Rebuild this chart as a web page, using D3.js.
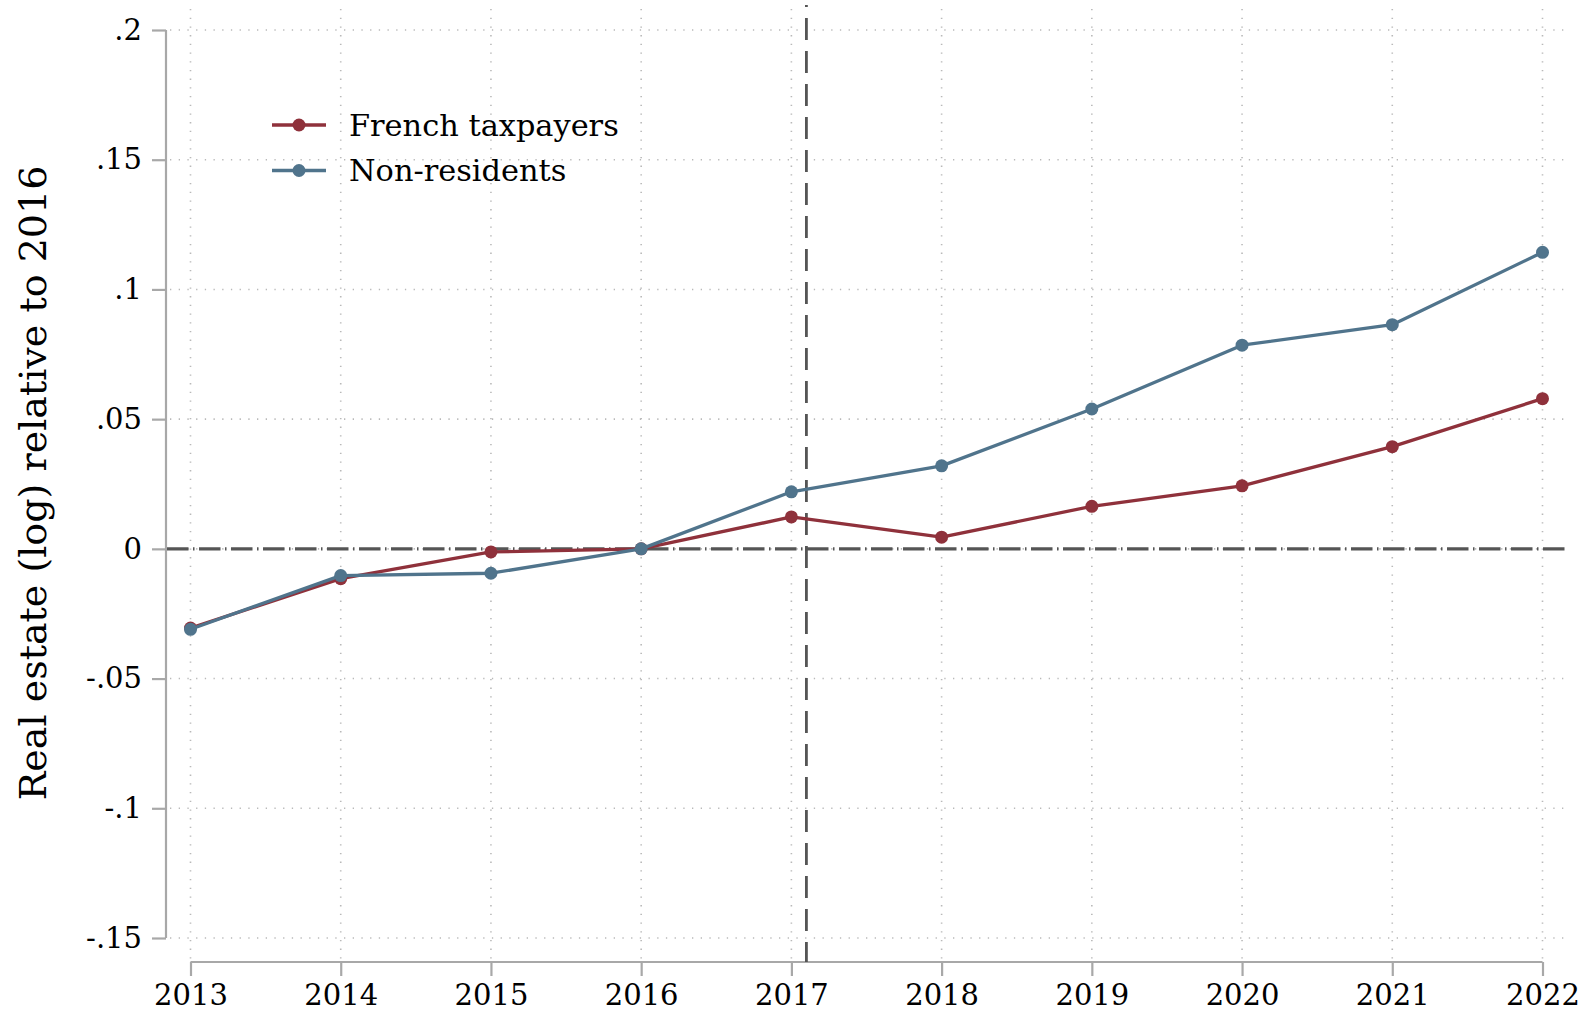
<!DOCTYPE html>
<html>
<head>
<meta charset="utf-8">
<script src="https://cdn.jsdelivr.net/npm/d3@7"></script>
<style>
  html, body { margin: 0; padding: 0; background: #fff; }
  svg { display: block; font-family: "DejaVu Serif", serif; }
  .tick-label { font-size: 29px; fill: #000; }
  .legend-label { font-size: 30.4px; fill: #000; }
  .y-title { font-size: 38px; fill: #000; }
</style>
</head>
<body>
<div id="chart"></div>
<script>
// data
var years = [2013, 2014, 2015, 2016, 2017, 2018, 2019, 2020, 2021, 2022];
var french = [-0.0305, -0.0115, -0.0012, 0, 0.0123, 0.0045, 0.0164, 0.0243, 0.0394, 0.0579];
var nonResidents = [-0.0310, -0.0103, -0.0094, 0, 0.0220, 0.0320, 0.0539, 0.0785, 0.0864, 0.1143];
var seriesNames = ["French taxpayers", "Non-residents"];
var yTicks = [-0.15, -0.1, -0.05, 0, 0.05, 0.1, 0.15, 0.2];
var yTickLabels = ["-.15", "-.1", "-.05", "0", ".05", ".1", ".15", ".2"];
var reformYear = 2017.1;

var W = 1587, H = 1013;
var colors = ["#8f313b", "#50748c"];
var axisColor = "#a8a8a8";
var refColor = "#555555";

var svg = d3.select("#chart").append("svg")
    .attr("width", W)
    .attr("height", H);

var plotLeft = 166, plotRight = 1568, plotTop = 5, plotBottom = 962;

var x = d3.scaleLinear().domain([2013, 2022]).range([190.5, 1542.5]);
var y = d3.scaleLinear().domain([-0.15, 0.2]).range([938, 30]);

// grid
var grid = svg.append("g").attr("class", "grid");
grid.selectAll("line.h").data(yTicks).enter().append("line")
    .attr("class", "h")
    .attr("x1", plotLeft + 4).attr("x2", plotRight)
    .attr("y1", function (d) { return y(d); })
    .attr("y2", function (d) { return y(d); })
    .attr("stroke", "#b9b9b9")
    .attr("stroke-width", 1.6)
    .attr("stroke-dasharray", "1.3,7.4");
grid.selectAll("line.v").data(years).enter().append("line")
    .attr("class", "v")
    .attr("y1", plotTop + 4).attr("y2", plotBottom - 3)
    .attr("x1", function (d) { return x(d); })
    .attr("x2", function (d) { return x(d); })
    .attr("stroke", "#b9b9b9")
    .attr("stroke-width", 1.6)
    .attr("stroke-dasharray", "1.3,7.4");

// axes
var yAxis = d3.axisLeft(y)
    .tickValues(yTicks)
    .tickFormat(function (d, i) { return yTickLabels[i]; })
    .tickSize(14)
    .tickPadding(10);
var gy = svg.append("g")
    .attr("transform", "translate(" + plotLeft + ",0)")
    .call(yAxis);
gy.select(".domain").attr("d", "M0," + y(0.2) + "V" + y(-0.15))
    .attr("stroke", axisColor).attr("stroke-width", 2.2);
gy.selectAll(".tick line").attr("stroke", axisColor).attr("stroke-width", 2.2);
gy.selectAll(".tick text").attr("class", "tick-label")
    .style("font-family", "'DejaVu Serif', serif")
    .attr("fill", "#000");

var xAxis = d3.axisBottom(x)
    .tickValues(years)
    .tickFormat(d3.format("d"))
    .tickSize(14)
    .tickPadding(8);
var gx = svg.append("g")
    .attr("transform", "translate(0," + plotBottom + ")")
    .call(xAxis);
gx.select(".domain").attr("d", "M" + x(2013) + ",0H" + x(2022))
    .attr("stroke", axisColor).attr("stroke-width", 2.2);
gx.selectAll(".tick line").attr("stroke", axisColor).attr("stroke-width", 2.2);
gx.selectAll(".tick text").attr("class", "tick-label")
    .style("font-family", "'DejaVu Serif', serif")
    .attr("fill", "#000");

// reference lines
svg.append("line")
    .attr("x1", plotLeft + 1).attr("x2", plotRight)
    .attr("y1", y(0)).attr("y2", y(0))
    .attr("stroke", refColor).attr("stroke-width", 3.2)
    .attr("stroke-dasharray", "21.5,4.5,1.5,4.5");
svg.append("line")
    .attr("x1", x(reformYear)).attr("x2", x(reformYear))
    .attr("y1", plotTop).attr("y2", plotBottom)
    .attr("stroke", refColor).attr("stroke-width", 2.8)
    .attr("stroke-dasharray", "22,11")
    .attr("stroke-dashoffset", 20);

// series
var series = [french, nonResidents];
var line = d3.line()
    .x(function (d, i) { return x(years[i]); })
    .y(function (d) { return y(d); });

series.forEach(function (vals, k) {
    var g = svg.append("g");
    g.append("path")
        .datum(vals)
        .attr("d", line)
        .attr("fill", "none")
        .attr("stroke", colors[k])
        .attr("stroke-width", 3.3)
        .attr("stroke-linejoin", "round");
    g.selectAll("circle").data(vals).enter().append("circle")
        .attr("cx", function (d, i) { return x(years[i]); })
        .attr("cy", function (d) { return y(d); })
        .attr("r", 6.5)
        .attr("fill", colors[k]);
});

// legend
var legend = svg.append("g");
seriesNames.forEach(function (name, k) {
    var ly = 125 + k * 45.5;
    legend.append("line")
        .attr("x1", 272).attr("x2", 326)
        .attr("y1", ly).attr("y2", ly)
        .attr("stroke", colors[k]).attr("stroke-width", 3.3);
    legend.append("circle")
        .attr("cx", 299).attr("cy", ly).attr("r", 6.5)
        .attr("fill", colors[k]);
    legend.append("text")
        .attr("class", "legend-label")
        .attr("x", 349).attr("y", ly + 10.5)
        .text(name);
});

// y title
svg.append("text")
    .attr("class", "y-title")
    .attr("transform", "translate(46,483) rotate(-90)")
    .attr("text-anchor", "middle")
    .text("Real estate (log) relative to 2016");
</script>
</body>
</html>
